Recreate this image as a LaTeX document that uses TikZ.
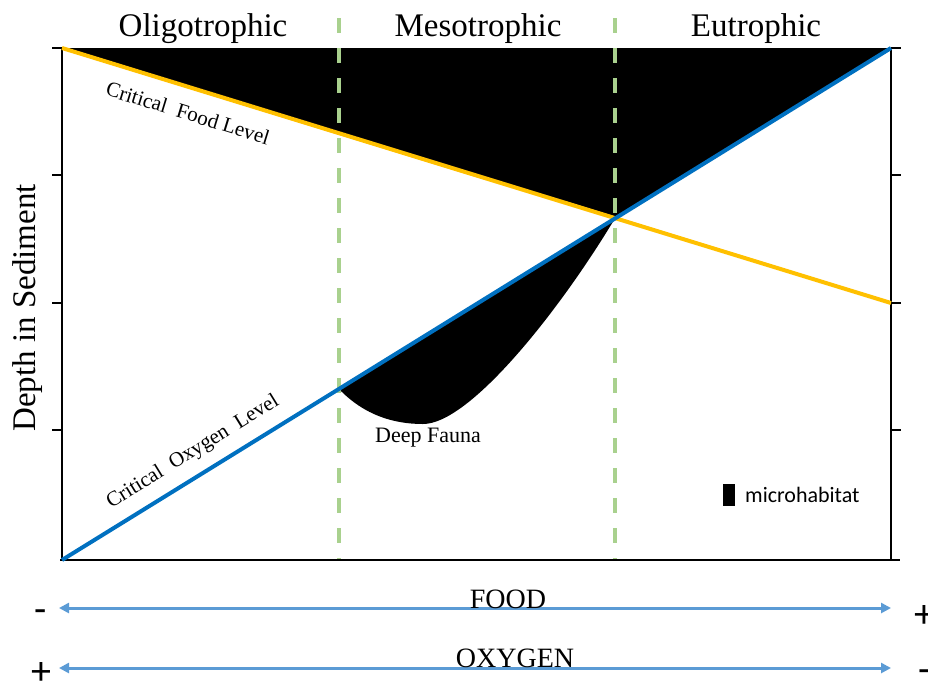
\documentclass[tikz,border=0pt]{standalone}
\usepackage{fontspec}
\setmainfont{Liberation Serif}
\newfontfamily\calib{Carlito}
\usetikzlibrary{arrows.meta}
\definecolor{foodc}{HTML}{FFC000}
\definecolor{oxyc}{HTML}{0070C0}
\definecolor{zonec}{HTML}{A9D18E}
\definecolor{arrc}{HTML}{5B9BD5}
\tikzset{
  axisline/.style={line width=1.8pt, black},
  zoneline/.style={line width=4pt, zonec, dash pattern=on 15pt off 15pt},
  foodline/.style={line width=4pt, foodc},
  oxyline/.style={line width=4pt, oxyc},
  title/.style={font=\fontsize{33}{36}\selectfont, inner sep=0pt, anchor=base},
  lbl/.style={font=\fontsize{21}{23}\selectfont, inner sep=0pt},
  gradient/.style={line width=3pt, arrc, {Triangle[length=10pt,width=10pt]}-{Triangle[length=10pt,width=10pt]}},
  axword/.style={font=\fontsize{28}{30}\selectfont, inner sep=0pt, anchor=base},
  sign/.style={font=\calib\fontsize{40}{42}\selectfont, inner sep=0pt, anchor=base},
}
\begin{document}
\begin{tikzpicture}[x=1pt,y=-1pt]
\useasboundingbox (0,0) rectangle (928,681);
% key points
\coordinate (TL) at (62,48);
\coordinate (TR) at (891,48);
\coordinate (BL) at (62,560);
\coordinate (BR) at (891,560);
\coordinate (FR) at (891,303);
\coordinate (X) at (615,218.3);
\coordinate (Z1) at (339,389);
% black microhabitat regions
\fill[black] (TL) -- (TR) -- (X) -- cycle;
\fill[black] (Z1) -- (X) .. controls (560,310) and (470,424) .. (423,424) .. controls (395,424) and (365,416) .. (Z1) -- cycle;
% zone borders
\coordinate (D1t) at (339,18);
\coordinate (D1b) at (339,560);
\coordinate (D2t) at (615,18);
\coordinate (D2b) at (615,560);
\draw[zoneline] (D1t) -- (D1b);
\draw[zoneline] (D2t) -- (D2b);
% axes
\draw[axisline] (62,48) -- (BL);
\draw[axisline] (60,560) -- (900,560);
\draw[axisline] (TR) -- (BR);
\foreach \y in {48,175,303,430} {
  \draw[axisline] (52,\y) -- (62,\y);
  \draw[axisline] (891,\y) -- (901,\y);
}
% critical lines
\draw[foodline] (TL) -- (FR);
\draw[oxyline] (BL) -- (TR);
% titles
\node[title] (oli) at (203,36) {Oligotrophic};
\node[title] (mes) at (478,36) {Mesotrophic};
\node[title] (eut) at (756,36) {Eutrophic};
\node[font=\fontsize{33}{35}\selectfont, rotate=90, inner sep=0pt] (depth) at (28,308) {Depth in Sediment};
% line labels
\node[lbl, rotate=-17.1] (cfl) at (188,113) {Critical\ \ Food Level};
\node[lbl, rotate=31.7] (col) at (193,452) {Critical\ \ Oxygen\ \ Level};
\node[lbl, font=\fontsize{22}{24}\selectfont] (deep) at (428,438) {Deep Fauna};
% legend
\fill[black] (723,484) rectangle (735,506);
\node[font=\calib\fontsize{22}{24}\selectfont, anchor=west, inner sep=0pt] (micro) at (745,495) {microhabitat};
% gradients
\coordinate (FA) at (59,608);
\coordinate (FB) at (891,608);
\coordinate (OA) at (59,668);
\coordinate (OB) at (891,668);
\draw[gradient] (FA) -- (FB);
\draw[gradient] (OA) -- (OB);
\node[axword] (food) at (508,608) {FOOD};
\node[axword] (oxy) at (515,667) {OXYGEN};
\node[sign] (fm) at (40.5,622) {-};
\node[sign] (fp) at (924,627) {+};
\node[sign] (op) at (41.5,684) {+};
\node[sign] (om) at (925,682) {-};
\end{tikzpicture}
\end{document}
